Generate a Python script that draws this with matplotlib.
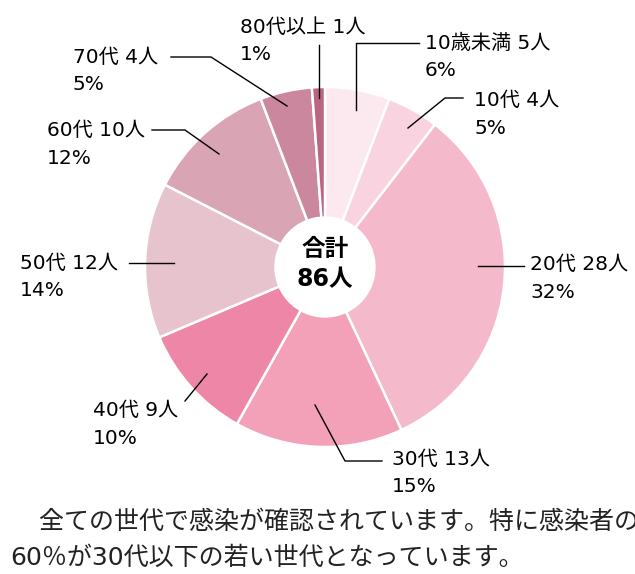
import matplotlib.pyplot as plt
import numpy as np

plt.rcParams['font.family'] = ['DejaVu Sans', 'Noto Sans CJK JP']

# --- dati ---
groups = ['10歳未満', '10代', '20代', '30代', '40代', '50代', '60代', '70代', '80代以上']
counts = [5, 4, 28, 13, 9, 12, 10, 4, 1]
pct_labels = ['6%', '5%', '32%', '15%', '10%', '14%', '12%', '5%', '1%']
colors = ['#FCE8EF', '#F9D3DF', '#F5B9CC', '#F2A1B9', '#EE87A7',
          '#E6C3CD', '#D9A4B4', '#CA879D', '#BA6682']
total = sum(counts)
note_lines = ['\u3000全ての世代で感染が確認されています。特に感染者の約',
              '60％が30代以下の若い世代となっています。']

# --- layout (pixel, origine in alto a sinistra) ---
W, H = 635, 574
cx, cy, R = 325, 267, 180
hole_r = 50
# punto interno, gomito, fine linea, posizione testo (x sinistra, y prima riga)
leaders = [
    [(356, 110), (356, 43), (419, 43), (425, 43)],
    [(408, 128), (445, 98), (463, 98), (474, 100)],
    [(478, 266), (478, 266), (524, 266), (530, 264)],
    [(315, 405), (345, 461), (382, 461), (392, 459)],
    [(207, 374), (185, 401), (185, 401), (93, 410)],
    [(174, 263), (174, 263), (129, 263), (20, 263)],
    [(219, 154), (185, 130), (152, 130), (47, 130)],
    [(287, 106), (211, 57), (171, 57), (73, 57)],
    [(319, 98), (319, 45), (319, 45), (240, 27)],
]
line_gap = 28

fig = plt.figure(figsize=(W / 100, H / 100), dpi=100)
ax = fig.add_axes([0, 0, 1, 1])

# asse y invertito: startangle=-90 e counterclock=True -> parte dall'alto, senso orario
ax.pie(counts, colors=colors, center=(cx, cy), radius=R, startangle=-90,
       counterclock=True, wedgeprops=dict(edgecolor='white', linewidth=1.8))
ax.add_patch(plt.Circle((cx, cy), hole_r, color='white', zorder=3))

ax.set_xlim(0, W)
ax.set_ylim(H, 0)
ax.set_aspect('auto')
ax.axis('off')

ax.text(cx, 249, '合計', ha='center', va='center', fontsize=17, fontweight='bold', zorder=4)
ax.text(cx, 279, f'{total}人', ha='center', va='center', fontsize=17, fontweight='bold', zorder=4)

for name, n, pct, pts in zip(groups, counts, pct_labels, leaders):
    p0, p1, p2, tpos = pts
    ax.plot([p0[0], p1[0], p2[0]], [p0[1], p1[1], p2[1]], color='black', lw=1, zorder=5)
    ax.text(tpos[0], tpos[1], f'{name} {n}人', ha='left', va='center', fontsize=14.5)
    ax.text(tpos[0], tpos[1] + line_gap, pct, ha='left', va='center', fontsize=14.5)

ax.text(14, 522, note_lines[0], ha='left', va='center', fontsize=18, color='#222222')
ax.text(10, 558, note_lines[1], ha='left', va='center', fontsize=18, color='#222222')

fig.savefig('out.png', dpi=100)
